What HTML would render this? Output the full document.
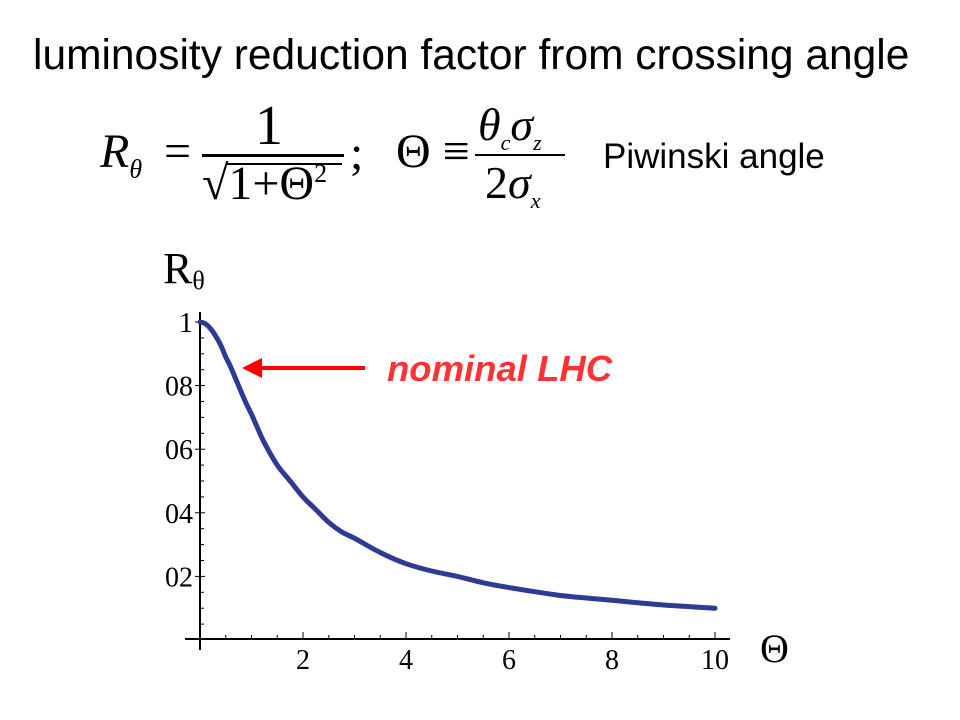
<!DOCTYPE html>
<html><head><meta charset="utf-8"><style>
body{margin:0;width:960px;height:720px;background:#fff;overflow:hidden;position:relative;font-family:"Liberation Sans",sans-serif}
.a{position:absolute;white-space:nowrap}
.s{font-family:"Liberation Serif",serif}
</style></head><body>
<div class="a" style="left:33px;top:32px;font-size:42.5px;color:#000">luminosity reduction factor from crossing angle</div>
<div class="a s" style="left:100px;top:100px;width:480px;height:120px">
 <span class="a" style="left:0;top:24px;font-size:48px;font-style:italic">R<sub style="font-size:26px">θ</sub></span>
 <span class="a" style="left:64px;top:24px;font-size:48px">=</span>
 <span class="a" style="left:155px;top:-6px;font-size:56px">1</span>
 <div class="a" style="left:102px;top:54px;width:142px;height:3px;background:#000"></div>
 <span class="a" style="left:102px;top:56px;font-size:48px">√1+Θ<sup style="font-size:26px">2</sup></span>
 <div class="a" style="left:126px;top:63px;width:116px;height:2px;background:#000"></div>
 <span class="a" style="left:250px;top:26px;font-size:48px">;</span>
 <span class="a" style="left:296px;top:24px;font-size:48px">Θ ≡</span>
 <span class="a" style="left:378px;top:-2px;font-size:46px;font-style:italic">θ<sub style="font-size:22px">c</sub>σ<sub style="font-size:22px">z</sub></span>
 <div class="a" style="left:375px;top:54px;width:90px;height:2px;background:#000"></div>
 <span class="a" style="left:385px;top:56px;font-size:46px">2<i>σ<sub style="font-size:22px">x</sub></i></span>
</div>
<div class="a" style="left:603px;top:137px;font-size:35px">Piwinski angle</div>
<svg class="a" style="left:0;top:0" width="960" height="720">
<g id="g"></g>
<text x="163" y="283" font-family="Liberation Serif,serif" font-size="44">R<tspan font-size="26" dy="6">θ</tspan></text>
<text x="760" y="662" font-family="Liberation Serif,serif" font-size="40">Θ</text>
<line x1="365" y1="368" x2="258" y2="368" stroke="#f00" stroke-width="4"/>
<polygon points="242,368 262,358 262,378" fill="#f00"/>
<text x="387" y="381" font-size="36.5" font-weight="bold" font-style="italic" fill="#f33" font-family="Liberation Sans,sans-serif">nominal LHC</text>
</svg>
<script>
const xs=[0,0.1,0.2,0.3,0.4,0.5,0.6,0.8,0.9,1,1.1,1.25,1.5,1.75,2,2.25,2.5,2.75,3,3.5,4,4.5,5,5.5,6,6.5,7,7.5,8,8.5,9,9.5,10];
const ys=[1,0.995,0.98,0.957,0.928,0.89,0.857,0.78,0.743,0.71,0.673,0.62,0.55,0.50,0.45,0.41,0.37,0.34,0.32,0.275,0.24,0.217,0.20,0.18,0.165,0.152,0.14,0.132,0.125,0.117,0.11,0.105,0.10];
const xTicks=[2,4,6,8,10];
const yTicks=[0.2,0.4,0.6,0.8,1];
const yLabels=["02","04","06","08","1"];
const X=v=>200+v*51.5, Y=v=>640-v*318;
const g=document.getElementById('g'),NS='http://www.w3.org/2000/svg';
function mk(t,a){const e=document.createElementNS(NS,t);for(const k in a)e.setAttribute(k,a[k]);g.appendChild(e);return e;}
let e=mk('line',{x1:185,y1:639,x2:730,y2:639,stroke:'#000','stroke-width':2});

e=mk('line',{x1:200,y1:312,x2:200,y2:650,stroke:'#000','stroke-width':2});

for(let i=1;i<=20;i++){const v=i*0.5,maj=i%4==0;e=mk('line',{x1:X(v),y1:639,x2:X(v),y2:639-(maj?7:4),stroke:'#000','stroke-width':1});
}
for(let i=1;i<=20;i++){const v=i*0.05,maj=i%4==0;e=mk('line',{x1:200-(maj?5:0),y1:Y(v),x2:200+(maj?5:4),y2:Y(v),stroke:'#000','stroke-width':1});
}
xTicks.forEach(v=>{e=mk('text',{x:X(v),y:669,'text-anchor':'middle','font-size':28,'font-family':'Liberation Serif,serif'});e.textContent=v;
});
yTicks.forEach((v,i)=>{e=mk('text',{x:193,y:Y(v)+10,'text-anchor':'end','font-size':28,'font-family':'Liberation Serif,serif'});e.textContent=yLabels[i];
});
const P=xs.map((v,i)=>[X(v),Y(ys[i])]);
let d='M'+P[0][0]+','+P[0][1];
for(let i=0;i<P.length-1;i++){const p0=P[Math.max(i-1,0)],p1=P[i],p2=P[i+1],p3=P[Math.min(i+2,P.length-1)];
d+='C'+(p1[0]+(p2[0]-p0[0])/6)+','+(p1[1]+(p2[1]-p0[1])/6)+' '+(p2[0]-(p3[0]-p1[0])/6)+','+(p2[1]-(p3[1]-p1[1])/6)+' '+p2[0]+','+p2[1];}
e=mk('path',{d:d,fill:'none',stroke:'#2e3a94','stroke-width':5,'stroke-linejoin':'round','stroke-linecap':'round'});

</script>
</body></html>
